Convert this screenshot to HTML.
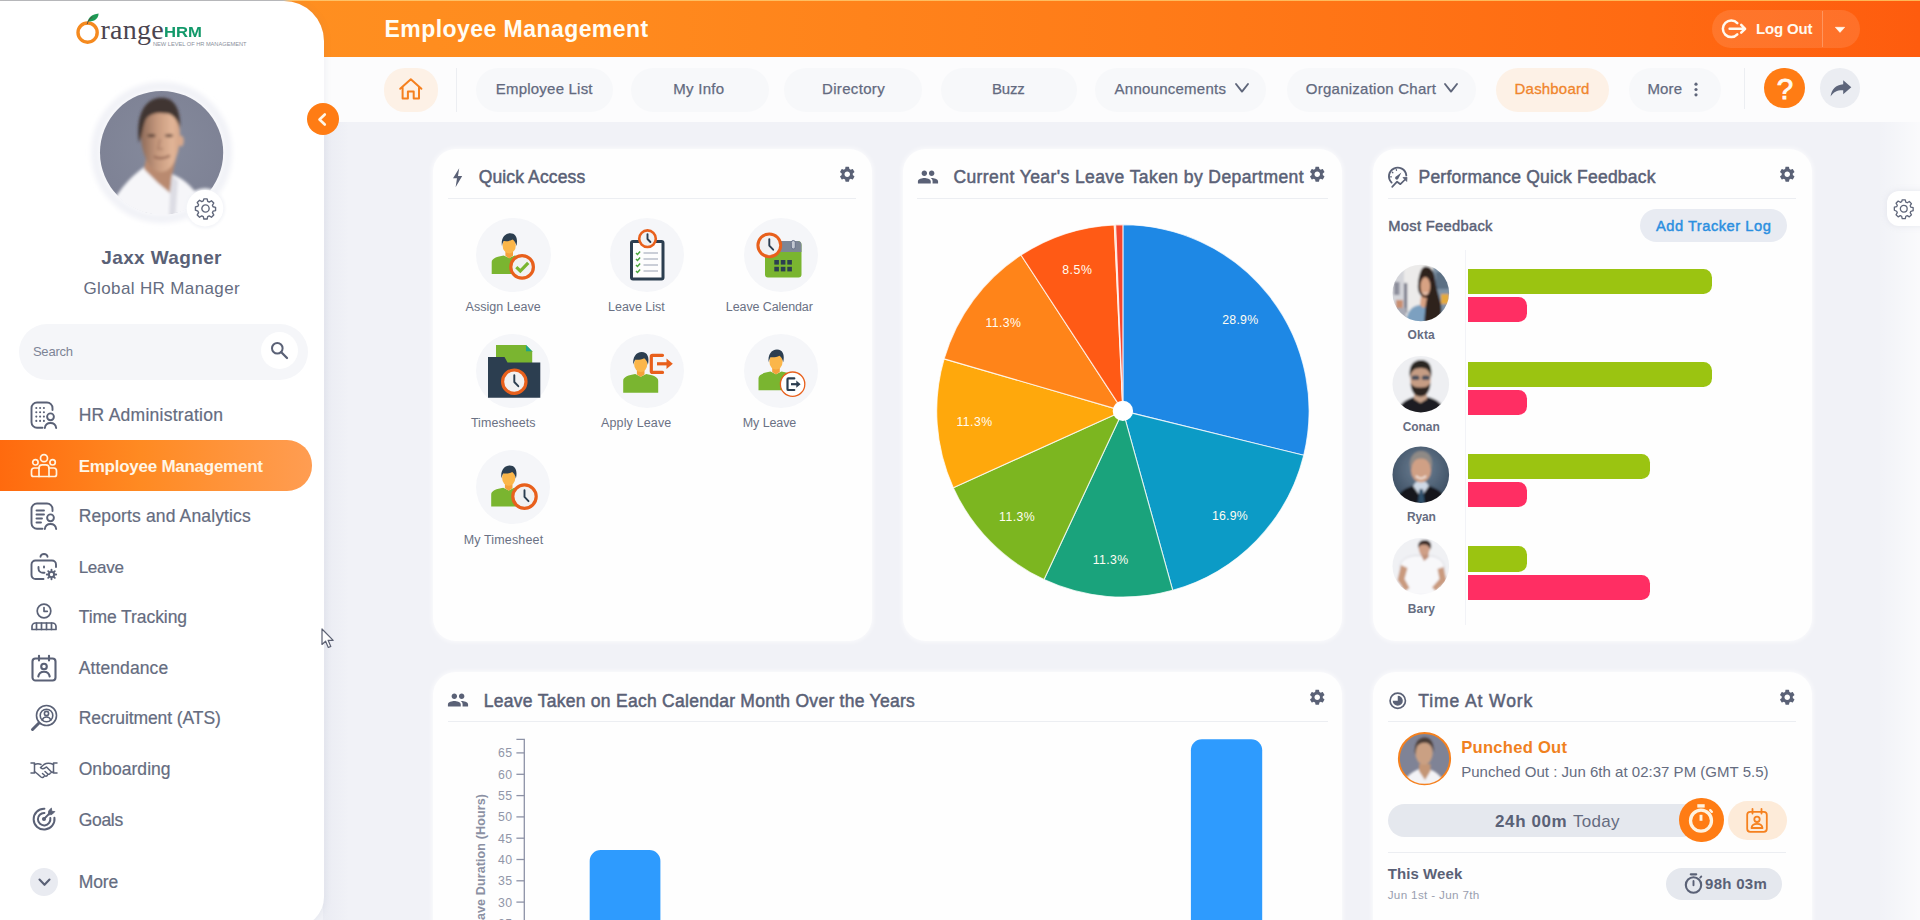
<!DOCTYPE html>
<html lang="en">
<head>
<meta charset="utf-8">
<title>OrangeHRM - Employee Management Dashboard</title>
<style>
*{box-sizing:border-box;margin:0;padding:0}
html,body{width:1920px;height:920px;overflow:hidden}
body{font-family:"Liberation Sans",sans-serif;background:#f1f2f7;color:#5f667a;position:relative}
.abs{position:absolute}
.t{position:absolute;white-space:nowrap;line-height:1}
svg{position:absolute;overflow:visible}
#header{position:absolute;left:0;top:0;width:1920px;height:57px;background:linear-gradient(90deg,#ff9322 0%,#ff8b1e 30%,#ff7b18 60%,#ff6a12 86%,#fe5c0e 100%)}
#topline{position:absolute;left:0;top:0;width:1920px;height:1.300px;background:linear-gradient(90deg,#b9b9bb 0,#b9b9bb 283px,#ffc266 290px,#ffb655 100%)}
#navbar{position:absolute;left:323px;top:57px;width:1597px;height:65px;background:#fcfcfd}
.pill{position:absolute;top:68px;height:44px;border-radius:22px;background:#f7f8fa}
#sidebar{position:absolute;left:0;top:1px;width:323.500px;height:925.500px;background:#fff;border-radius:0 40px 30px 0;box-shadow:2px 0 6px rgba(120,125,150,.08)}
.card{position:absolute;background:#fefefe;border-radius:23px;box-shadow:0 0 5px 1px rgba(255,255,255,.75)}
.hr{position:absolute;height:1px;background:#eceef2}
</style>
</head>
<body>
<div id="header"></div><div id="topline"></div><div id="navbar"></div>
<div class="abs" style="left:1878px;top:122px;width:42px;height:798px;background:linear-gradient(90deg,rgba(255,255,255,0),rgba(255,255,255,.65))"></div>
<div class="abs" style="left:323px;top:122px;width:26px;height:798px;background:linear-gradient(90deg,rgba(150,155,190,.075),rgba(150,155,190,0))"></div>
<div class="t" style="left:384.6px;top:18.0px;font-size:23px;color:#fffdf5;font-weight:bold;letter-spacing:0.44px;">Employee Management</div>
<div class="abs" style="left:1712px;top:10px;width:148px;height:38px;border-radius:19px;background:rgba(255,255,255,.11)"></div>
<div class="abs" style="left:1822px;top:11px;width:1px;height:36px;background:rgba(255,255,255,.25)"></div>
<div class="t" style="left:1756.1px;top:21.0px;font-size:15px;color:#fffaf0;font-weight:bold;letter-spacing:-0.18px;">Log Out</div>
<svg style="left:1720px;top:18px" width="28" height="22" viewBox="0 0 28 22"><g fill="none" stroke="#fffaf0" stroke-width="2.500" stroke-linecap="round" stroke-linejoin="round"><path d="M17.3 5.2A8.3 8.3 0 1 0 17.3 16.4"/><path d="M9.6 10.8H25M21.2 6.9l3.9 3.9-3.9 3.9"/></g></svg>
<svg style="left:1835px;top:26.5px" width="10" height="6" viewBox="0 0 10 6"><path d="M0.3 0.3h9.4L5 5.4z" fill="#fffaf0" stroke="#fffaf0" stroke-width=".6" stroke-linejoin="round"/></svg>
<div class="abs" style="left:384px;top:68px;width:54px;height:44px;border-radius:21px;background:#fdf1e6"></div>
<svg style="left:398px;top:77px" width="26" height="24" viewBox="0 0 26 24"><path d="M2.2 11.8L12.8 2.2 23.4 11.8M4.6 10.2V21.6H9.9V14.6H15.7V21.6H21V10.2" fill="none" stroke="#f5801f" stroke-width="2" stroke-linecap="round" stroke-linejoin="round"/></svg>
<div class="abs" style="left:456px;top:68px;width:1px;height:44px;background:#eceef2"></div>
<div class="pill" style="left:476px;width:137px;"></div>
<div class="t" style="left:495.8px;top:81.0px;font-size:15px;color:#636a7f;letter-spacing:0.21px;-webkit-text-stroke:.25px #636a7f;">Employee List</div>
<div class="pill" style="left:631px;width:138px;"></div>
<div class="t" style="left:673.3px;top:81.0px;font-size:15px;color:#636a7f;letter-spacing:0.26px;-webkit-text-stroke:.25px #636a7f;">My Info</div>
<div class="pill" style="left:784px;width:138px;"></div>
<div class="t" style="left:822.0px;top:81.0px;font-size:15px;color:#636a7f;letter-spacing:0.33px;-webkit-text-stroke:.25px #636a7f;">Directory</div>
<div class="pill" style="left:941px;width:136px;"></div>
<div class="t" style="left:992.0px;top:81.0px;font-size:15px;color:#636a7f;letter-spacing:-0.21px;-webkit-text-stroke:.25px #636a7f;">Buzz</div>
<div class="pill" style="left:1095px;width:171px;"></div>
<div class="t" style="left:1114.6px;top:81.0px;font-size:15px;color:#636a7f;letter-spacing:0.24px;-webkit-text-stroke:.25px #636a7f;">Announcements</div>
<div class="pill" style="left:1287px;width:189px;"></div>
<div class="t" style="left:1305.8px;top:81.0px;font-size:15px;color:#636a7f;letter-spacing:0.25px;-webkit-text-stroke:.25px #636a7f;">Organization Chart</div>
<svg style="left:1234.7px;top:83.4px" width="14" height="10" viewBox="0 0 14 10"><path d="M1 1L7 8.6 13 1" fill="none" stroke="#5f667a" stroke-width="1.9" stroke-linecap="round" stroke-linejoin="round"/></svg>
<svg style="left:1444.2px;top:83.4px" width="14" height="10" viewBox="0 0 14 10"><path d="M1 1L7 8.6 13 1" fill="none" stroke="#5f667a" stroke-width="1.9" stroke-linecap="round" stroke-linejoin="round"/></svg>
<div class="pill" style="left:1496px;width:113px;background:#fdf1e6;"></div>
<div class="t" style="left:1514.6px;top:81.0px;font-size:15px;color:#f0852c;letter-spacing:0.18px;-webkit-text-stroke:.3px #f0852c;">Dashboard</div>
<div class="pill" style="left:1629px;width:92px;"></div>
<div class="t" style="left:1647.4px;top:81.0px;font-size:15px;color:#636a7f;letter-spacing:0.15px;-webkit-text-stroke:.25px #636a7f;">More</div>
<svg style="left:1694px;top:82px" width="4" height="15" viewBox="0 0 4 15"><g fill="#5f667a"><circle cx="2" cy="2.2" r="1.6"/><circle cx="2" cy="7.5" r="1.6"/><circle cx="2" cy="12.8" r="1.6"/></g></svg>
<div class="abs" style="left:1743.5px;top:68px;width:1px;height:41px;background:#eceef2"></div>
<div class="abs" style="left:1764px;top:67.7px;width:40.8px;height:40.8px;border-radius:50%;background:#ff7c14"></div>
<div class="t" style="left:1776.7px;top:74.0px;font-size:29.5px;color:#fffaf0;-webkit-text-stroke:.9px #fffaf0;">?</div>
<div class="abs" style="left:1820.2px;top:68.2px;width:39.6px;height:39.6px;border-radius:50%;background:#ebedf2"></div>
<svg style="left:1829.5px;top:80px" width="22" height="17" viewBox="0 0 22 17"><path d="M13.2 0.3L21.3 7.2 13.2 14.2V10.3C7.6 10 3.6 11.9 0.6 16.4 1.5 9.8 5.6 4.9 13.2 4.3z" fill="#5d657a"/></svg>
<div id="sidebar"></div>
<svg style="left:72px;top:10px" width="180" height="40" viewBox="0 0 180 40"><circle cx="15.6" cy="22.6" r="9.6" fill="none" stroke="#f58a1f" stroke-width="3.4"/><path d="M15.5 11.5C16.5 7.5 20 4.2 26.6 3.4 26.4 8.6 22.5 11.6 15.5 11.5z" fill="#1e9a55"/><path d="M15.2 14.2C15.6 11.6 17.2 9 20.5 7" fill="none" stroke="#5a4a3a" stroke-width="1"/></svg>
<div class="t" style="left:100.4px;top:16.0px;font-size:28px;color:#4b4550;letter-spacing:0.26px;font-family:'Liberation Serif',serif;">range</div>
<div class="t" style="left:163.5px;top:24.0px;font-size:15.3px;color:#12996a;font-weight:bold;transform:scaleX(1.09);transform-origin:0 0;">HRM</div>
<div class="t" style="left:153.0px;top:42.0px;font-size:5.7px;color:#8a8f9c;letter-spacing:-0.02px;">NEW LEVEL OF HR MANAGEMENT</div>
<svg style="left:88px;top:79px" width="148" height="148" viewBox="0 0 148 148">
<defs><clipPath id="avc"><circle cx="73.600" cy="73.500" r="62.200"/></clipPath><filter id="bl1" x="-20%" y="-20%" width="140%" height="140%"><feGaussianBlur stdDeviation="1.500"/></filter><filter id="bl0" x="-20%" y="-20%" width="140%" height="140%"><feGaussianBlur stdDeviation="2.500"/></filter>
<linearGradient id="skin" x1="0" y1="0" x2="1" y2="0"><stop offset="0" stop-color="#8d6a58"/><stop offset=".4" stop-color="#c4977c"/><stop offset=".8" stop-color="#e2b597"/><stop offset="1" stop-color="#d4a588"/></linearGradient>
<radialGradient id="avbg" cx="50%" cy="45%" r="60%"><stop offset="0" stop-color="#858a9c"/><stop offset="1" stop-color="#7d8194"/></radialGradient></defs>
<circle cx="73.600" cy="73.500" r="66" fill="none" stroke="#f1f2f7" stroke-width="9" filter="url(#bl0)"/>
<circle cx="73.600" cy="73.500" r="61.600" fill="url(#avbg)"/>
<g clip-path="url(#avc)"><g filter="url(#bl1)">
<path d="M10 160C20 120 40 100 56 88L86 96C100 102 116 116 130 160z" fill="#f6f6f9"/>
<path d="M58 80L56 90 70 104 82 114 84 96 88 80z" fill="#b98a70"/>
<path d="M82 114L84 96 90 102 86 160 80 160z" fill="#dddde4"/>
<path d="M53 58C52 40 58 28 72 27 86 26 92 38 92 56 92 72 86 92 74 93 62 94 54 76 53 58z" fill="url(#skin)"/>
<ellipse cx="93" cy="62" rx="2.800" ry="5.500" fill="#d9a98c"/>
<path d="M51 64C48 40 54 22 70 19 84 17 93 26 92 50 90 42 86 36 80 34.500 70 33 62 34 58 40 55 46 54 56 51 64z" fill="#3f3431"/>
<ellipse cx="63.500" cy="56.600" rx="4.200" ry="1.700" fill="#5c4338"/><ellipse cx="81" cy="56.600" rx="4.200" ry="1.700" fill="#6e5144"/>
<path d="M66 77.500C70 80 77 80 82 76.500" stroke="#8d5f4e" stroke-width="2" fill="none"/>
<path d="M72 60L70 70H75" stroke="#a87c66" stroke-width="1.500" fill="none"/>
</g></g>
<circle cx="117" cy="129.200" r="20" fill="#f3f4f8" filter="url(#bl1)"/><circle cx="117" cy="129.200" r="18.300" fill="#fff"/>
</svg>
<svg style="left:193.5px;top:196.700px" width="23" height="23" viewBox="0 0 24 24"><path d="M12 8.2a3.8 3.8 0 1 0 0 7.6 3.8 3.8 0 0 0 0-7.6zM10.3 2h3.4l.6 2.6 1.6.7 2.3-1.4 2.4 2.4-1.4 2.3.7 1.6 2.6.6v3.4l-2.6.6-.7 1.6 1.4 2.3-2.4 2.4-2.3-1.4-1.6.7-.6 2.6h-3.4l-.6-2.6-1.6-.7-2.3 1.4-2.4-2.4 1.4-2.3-.7-1.6L1.500 13.700v-3.400l2.600-.6.700-1.600L3.400 5.800 5.800 3.400l2.300 1.400 1.600-.7z" fill="none" stroke="#5f667a" stroke-width="1.45" stroke-linejoin="round"/></svg>
<div class="t" style="left:101.3px;top:248.0px;font-size:19px;color:#5a6176;font-weight:bold;letter-spacing:0.37px;">Jaxx Wagner</div>
<div class="t" style="left:83.5px;top:280.0px;font-size:17px;color:#656c80;letter-spacing:0.37px;">Global HR Manager</div>
<div class="abs" style="left:18.500px;top:323.500px;width:289px;height:56.500px;border-radius:28px;background:#f5f6f9"></div>
<div class="abs" style="left:260.500px;top:332px;width:37px;height:37px;border-radius:50%;background:#fff"></div>
<div class="t" style="left:32.9px;top:345.0px;font-size:13px;color:#7d8496;letter-spacing:-0.20px;">Search</div>
<svg style="left:270px;top:340.500px" width="19" height="19" viewBox="0 0 19 19"><circle cx="7.300" cy="7.300" r="5.300" fill="none" stroke="#5a6176" stroke-width="2"/><path d="M11.300 11.300L17 17" stroke="#5a6176" stroke-width="2.300" stroke-linecap="round"/></svg>
<div class="abs" style="left:0;top:440px;width:311.500px;height:50.500px;border-radius:0 25px 25px 0;background:linear-gradient(90deg,#ff6a0e 0%,#ff8a22 45%,#ff9d52 100%)"></div>
<div class="t" style="left:78.7px;top:407.0px;font-size:17.5px;color:#656c80;letter-spacing:0.26px;-webkit-text-stroke:.2px #656c80;">HR Administration</div>
<div class="t" style="left:78.7px;top:458.0px;font-size:17px;color:#fff6e6;font-weight:bold;letter-spacing:-0.26px;">Employee Management</div>
<div class="t" style="left:78.7px;top:508.0px;font-size:17.5px;color:#656c80;letter-spacing:0.14px;-webkit-text-stroke:.2px #656c80;">Reports and Analytics</div>
<div class="t" style="left:78.7px;top:559.0px;font-size:17px;color:#656c80;letter-spacing:-0.27px;-webkit-text-stroke:.2px #656c80;">Leave</div>
<div class="t" style="left:78.7px;top:609.0px;font-size:17.5px;color:#656c80;letter-spacing:-0.07px;-webkit-text-stroke:.2px #656c80;">Time Tracking</div>
<div class="t" style="left:78.7px;top:660.0px;font-size:17.5px;color:#656c80;letter-spacing:0.10px;-webkit-text-stroke:.2px #656c80;">Attendance</div>
<div class="t" style="left:78.7px;top:710.0px;font-size:17.5px;color:#656c80;letter-spacing:-0.09px;-webkit-text-stroke:.2px #656c80;">Recruitment (ATS)</div>
<div class="t" style="left:78.7px;top:761.0px;font-size:17.5px;color:#656c80;letter-spacing:0.05px;-webkit-text-stroke:.2px #656c80;">Onboarding</div>
<div class="t" style="left:78.7px;top:812.0px;font-size:17.5px;color:#656c80;letter-spacing:-0.30px;-webkit-text-stroke:.2px #656c80;">Goals</div>
<div class="t" style="left:78.7px;top:874.0px;font-size:17.5px;color:#656c80;letter-spacing:-0.07px;-webkit-text-stroke:.2px #656c80;">More</div>
<svg style="left:30px;top:401px" width="28" height="28" viewBox="0 0 28 28"><g fill="none" stroke="#5a6176" stroke-width="1.9" stroke-linecap="round" stroke-linejoin="round"><path d="M12.500 26.800H7A5.500 5.500 0 0 1 1.500 21.300V7A5.500 5.500 0 0 1 7 1.500H17A5.500 5.500 0 0 1 22.500 7V9"/><circle cx="6.3" cy="7" r="1.050" fill="#5a6176" stroke="none"/><circle cx="6.3" cy="11.3" r="1.050" fill="#5a6176" stroke="none"/><circle cx="6.3" cy="15.6" r="1.050" fill="#5a6176" stroke="none"/><circle cx="6.3" cy="19.9" r="1.050" fill="#5a6176" stroke="none"/><circle cx="10.1" cy="7" r="1.050" fill="#5a6176" stroke="none"/><circle cx="10.1" cy="11.3" r="1.050" fill="#5a6176" stroke="none"/><circle cx="10.1" cy="15.6" r="1.050" fill="#5a6176" stroke="none"/><circle cx="10.1" cy="19.9" r="1.050" fill="#5a6176" stroke="none"/><circle cx="13.9" cy="7" r="1.050" fill="#5a6176" stroke="none"/><circle cx="13.9" cy="11.3" r="1.050" fill="#5a6176" stroke="none"/><circle cx="13.9" cy="15.6" r="1.050" fill="#5a6176" stroke="none"/><circle cx="13.9" cy="19.9" r="1.050" fill="#5a6176" stroke="none"/><circle cx="20.500" cy="15.800" r="3.400"/><path d="M14.800 27C15.300 23.800 17.600 22 20.500 22S25.700 23.800 26.200 27"/></g></svg>
<svg style="left:30px;top:451.5px" width="28" height="28" viewBox="0 0 28 28"><g fill="none" stroke="#fff3e0" stroke-width="1.7" stroke-linecap="round" stroke-linejoin="round"><circle cx="14" cy="6.200" r="3.500"/><circle cx="5.400" cy="10.300" r="2.700"/><circle cx="22.600" cy="10.300" r="2.700"/><path d="M9 24.500V16A3.200 3.200 0 0 1 12.200 12.800H15.800A3.200 3.200 0 0 1 19 16V24.500"/><path d="M9 16H4.300A2.800 2.800 0 0 0 1.500 18.800V22.500A2 2 0 0 0 3.500 24.500H24.500A2 2 0 0 0 26.500 22.500V18.800A2.800 2.800 0 0 0 23.700 16H19"/></g></svg>
<svg style="left:30px;top:502px" width="28" height="28" viewBox="0 0 28 28"><g fill="none" stroke="#5a6176" stroke-width="1.9" stroke-linecap="round" stroke-linejoin="round"><path d="M12.500 26.800H7A5.500 5.500 0 0 1 1.500 21.300V7A5.500 5.500 0 0 1 7 1.500H17A5.500 5.500 0 0 1 22.500 7V9"/><path d="M6.500 8.500H14M6.500 12.500H14M6.500 16.500H12M6.500 20.500H11"/><circle cx="20.500" cy="15.800" r="3.400"/><path d="M14.800 27C15.300 23.800 17.600 22 20.500 22S25.700 23.800 26.200 27"/></g></svg>
<svg style="left:30px;top:552.5px" width="28" height="28" viewBox="0 0 28 28"><g fill="none" stroke="#5a6176" stroke-width="1.9" stroke-linecap="round" stroke-linejoin="round"><path d="M10.500 3.800A3.500 2.800 0 0 1 17.500 3.800"/><path d="M13.500 26H5.500A4 4 0 0 1 1.500 22V11.500A4 4 0 0 1 5.500 7.500H22A4 4 0 0 1 26 11.500V14"/><path d="M8.500 14V15.500C8.500 18 10.500 19.800 13 19.800H14.500"/><path d="M14 13.500V14.500"/><circle cx="21.500" cy="21.500" r="2.600"/><path d="M21.500 16.800V18.500M21.500 24.500V26.200M16.800 21.500H18.500M24.500 21.500H26.200M18.200 18.200L19.400 19.400M23.600 23.600L24.800 24.800M24.800 18.200L23.600 19.400M19.400 23.600L18.200 24.800"/></g></svg>
<svg style="left:30px;top:603px" width="28" height="28" viewBox="0 0 28 28"><g fill="none" stroke="#5a6176" stroke-width="1.7" stroke-linecap="round" stroke-linejoin="round"><circle cx="14" cy="8" r="6.800"/><path d="M14 4.500V8.300H17.300"/><path d="M2 26.500V23.500A3.500 3.500 0 0 1 5.500 20H22.500A3.500 3.500 0 0 1 26 23.500V26.500z"/><path d="M6.500 20V26.500M11.500 20V26.500M16.500 20V26.500M21.500 20V26.500"/></g></svg>
<svg style="left:30px;top:653.5px" width="28" height="28" viewBox="0 0 28 28"><g fill="none" stroke="#5a6176" stroke-width="2.1" stroke-linecap="round" stroke-linejoin="round"><rect x="2.500" y="4.500" width="23" height="22" rx="3"/><path d="M9 1.800V6.500M19 1.800V6.500"/><circle cx="14" cy="12.500" r="2.800"/><path d="M8.300 22.500C8.800 19.500 11 17.800 14 17.800S19.200 19.500 19.700 22.500"/></g></svg>
<svg style="left:30px;top:704px" width="28" height="28" viewBox="0 0 28 28"><g fill="none" stroke="#5a6176" stroke-width="1.6" stroke-linecap="round" stroke-linejoin="round"><circle cx="16.500" cy="11.500" r="10"/><circle cx="16.500" cy="11.500" r="6.300"/><circle cx="16.500" cy="9.500" r="2.100"/><path d="M12.300 16C13 13.800 14.500 13 16.500 13S20 13.800 20.700 16"/><path d="M9 19L2.500 25.500" stroke-width="3"/></g></svg>
<svg style="left:30px;top:754.5px" width="28" height="28" viewBox="0 0 28 28"><g fill="none" stroke="#5a6176" stroke-width="1.5" stroke-linecap="round" stroke-linejoin="round"><path d="M1 8H4.500V18H1M27 8H23.500V18H27"/><path d="M4.500 9.500C7 8.500 9 8.500 11 9.500M23.500 9.500C20 8 16.500 8 14 9.500L10.500 12.500C11.500 14 13.500 14 15 12.800L16.500 12 22 17.500"/><path d="M4.500 16.500L7 18.500 11 22C12 22.800 13.200 22.500 13.800 21.700M9.500 20.700L8 19.300M12.500 18.500L15 20.800C16 21.500 17.200 21 17.500 20M15 16.500L17.800 19C19 19.800 20.200 19 20.300 18M23.500 16.500L22 17.500"/></g></svg>
<svg style="left:30px;top:805.3px" width="28" height="28" viewBox="0 0 28 28"><g fill="none" stroke="#5a6176" stroke-width="2.3" stroke-linecap="round" stroke-linejoin="round"><g transform="translate(1.800,1.800) scale(.87)"><path d="M14.500 2.200A12 12 0 1 0 26 12.500"/><path d="M14.500 7A7.200 7.200 0 1 0 21.300 13"/><path d="M14 14L19.500 8.500" stroke-width="2.200"/><path d="M19 9L19.500 4.500 22.500 1.500 23 5.200 26.500 5.500 23.500 8.500z" fill="#5a6176" stroke-width="1"/><circle cx="14" cy="14" r="1.200" fill="#5a6176"/></g></g></svg>
<div class="abs" style="left:30.200px;top:867.500px;width:28px;height:28px;border-radius:50%;background:#e9ebf1"></div>
<svg style="left:38px;top:877.500px" width="13" height="9" viewBox="0 0 13 9"><path d="M1.500 1.500L6.500 6.800 11.500 1.500" fill="none" stroke="#5a6176" stroke-width="2.100" stroke-linecap="round" stroke-linejoin="round"/></svg>
<div class="abs" style="left:307px;top:103px;width:32px;height:32px;border-radius:50%;background:#ff7c14"></div>
<svg style="left:317px;top:112.500px" width="10" height="13" viewBox="0 0 10 13"><path d="M7.800 1.500L2.500 6.500 7.800 11.500" fill="none" stroke="#fff6e8" stroke-width="2.600" stroke-linecap="round" stroke-linejoin="round"/></svg>
<div class="card" style="left:432.500px;top:148.800px;width:439.500px;height:492px"></div>
<svg style="left:452px;top:167.500px" width="11" height="19.500" viewBox="0 0 11 19.500"><path d="M7.200 0.300L1 10.300H5L3.600 19.200 10.200 8H6z" fill="#5a6176"/></svg>
<div class="t" style="left:478.7px;top:169.0px;font-size:17.5px;color:#5a6176;letter-spacing:0.13px;-webkit-text-stroke:.5px #5a6176;">Quick Access</div>
<svg style="left:837.5px;top:165.1px" width="18.5" height="18.5" viewBox="0 0 24 24"><path d="M19.14 12.94c.04-.3.06-.61.06-.94 0-.32-.02-.64-.07-.94l2.030-1.580a.49.49 0 0 0 .12-.61l-1.920-3.320a.488.488 0 0 0-.59-.22l-2.390.96c-.5-.38-1.030-.7-1.620-.94l-.36-2.540a.484.484 0 0 0-.48-.41h-3.840c-.24 0-.43.17-.47.41l-.36 2.540c-.59.24-1.130.57-1.620.94l-2.390-.96c-.22-.08-.47 0-.59.22L2.740 8.870c-.12.21-.08.47.12.61l2.030 1.580c-.05.3-.09.63-.09.94s.02.64.07.94l-2.030 1.580a.49.49 0 0 0-.12.61l1.920 3.320c.12.22.37.29.59.22l2.390-.96c.5.38 1.030.7 1.620.94l.36 2.540c.05.24.24.41.48.41h3.840c.24 0 .44-.17.47-.41l.36-2.540c.59-.24 1.130-.56 1.620-.94l2.390.96c.22.08.47 0 .59-.22l1.920-3.320c.12-.22.07-.47-.12-.61l-2.010-1.580zM12 15.600c-1.980 0-3.600-1.620-3.600-3.600s1.620-3.600 3.600-3.600 3.600 1.620 3.600 3.600-1.620 3.600-3.600 3.600z" fill="#5a6176"/></svg>
<div class="hr" style="left:448px;top:198px;width:408px"></div>
<div class="abs" style="left:476.4px;top:217.7px;width:74.600px;height:74.600px;border-radius:50%;background:#f5f6f9"></div>
<div class="abs" style="left:609.7px;top:217.7px;width:74.600px;height:74.600px;border-radius:50%;background:#f5f6f9"></div>
<div class="abs" style="left:743.7px;top:217.7px;width:74.600px;height:74.600px;border-radius:50%;background:#f5f6f9"></div>
<svg style="left:0;top:0" width="1920" height="920" viewBox="0 0 1920 920"><path d="M491.7 274.1V262.1C491.7 258.1 497.2 256.6 503.7 255.4L509.2 258.1L514.7 255.4C521.2 256.6 526.7 258.1 526.7 262.1V274.1z" fill="#7ab530"/><path d="M505.4 249.6H513.0V255.79999999999998L509.2 258.4L505.4 255.79999999999998z" fill="#f5a13a"/><ellipse cx="509.2" cy="245.4" rx="6.600" ry="8" fill="#fbb64a"/><path d="M502.0 246.1C500.59999999999997 238.6 504.7 233.2 510.2 233.2C516.0 233.2 518.2 238.6 516.4 246.1C515.8 243.1 514.7 241.0 512.7 239.6C509.7 241.29999999999998 505.7 241.29999999999998 503.7 241.0C502.7 242.6 502.2 244.1 502.0 246.1z" fill="#2c3e50"/><circle cx="522.100" cy="266.900" r="11.300" fill="#f1f1f2" stroke="#e8601c" stroke-width="3.200"/><path d="M516.300 267.200L520.300 271 528.200 262.800" fill="none" stroke="#7ab530" stroke-width="3.200"/></svg>
<svg style="left:0;top:0" width="1920" height="920" viewBox="0 0 1920 920"><rect x="631.500" y="241.500" width="31.500" height="37.500" rx="1.500" fill="#fdfdfd" stroke="#2c3e50" stroke-width="3"/><path d="M636 253l1.500 1.500 2.600-3" fill="none" stroke="#4aa63c" stroke-width="1.500"/><path d="M643.500 253H658" stroke="#c5c9d3" stroke-width="1.800"/><path d="M636 259l1.500 1.500 2.600-3" fill="none" stroke="#4aa63c" stroke-width="1.500"/><path d="M643.500 259H658" stroke="#c5c9d3" stroke-width="1.800"/><path d="M636 265l1.500 1.500 2.600-3" fill="none" stroke="#4aa63c" stroke-width="1.500"/><path d="M643.500 265H658" stroke="#c5c9d3" stroke-width="1.800"/><path d="M636 271l1.500 1.500 2.600-3" fill="none" stroke="#4aa63c" stroke-width="1.500"/><path d="M643.500 271H658" stroke="#c5c9d3" stroke-width="1.800"/><circle cx="647.5" cy="238.7" r="8.299999999999999" fill="#f1f1f2" stroke="#e8601c" stroke-width="2.6"/><path d="M647.5 234.09199999999998V239.0L650.38 241.964" fill="none" stroke="#2c3e50" stroke-width="1.900" stroke-linecap="round" stroke-linejoin="round"/></svg>
<svg style="left:0;top:0" width="1920" height="920" viewBox="0 0 1920 920"><path d="M765 274.500V245A4 4 0 0 1 769 241H797.500A4 4 0 0 1 801.500 245V274.500A3 3 0 0 1 798.500 277.500H768A3 3 0 0 1 765 274.500z" fill="#7ab530"/><path d="M765 252V245A4 4 0 0 1 769 241H797.500A4 4 0 0 1 801.500 245V252z" fill="#7d8696"/><rect x="791.300" y="240.500" width="4" height="8.500" rx="2" fill="#c3c8d2" stroke="#69728a" stroke-width="1"/><rect x="774.3" y="260" width="4.600" height="4.600" fill="#2c3e50"/><rect x="774.3" y="266.8" width="4.600" height="4.600" fill="#2c3e50"/><rect x="780.8" y="260" width="4.600" height="4.600" fill="#2c3e50"/><rect x="780.8" y="266.8" width="4.600" height="4.600" fill="#2c3e50"/><rect x="787.3" y="260" width="4.600" height="4.600" fill="#2c3e50"/><rect x="787.3" y="266.8" width="4.600" height="4.600" fill="#2c3e50"/><circle cx="769.3" cy="245.3" r="11.4" fill="#f1f1f2" stroke="#e8601c" stroke-width="3"/><path d="M769.3 239.108V245.60000000000002L773.17 249.686" fill="none" stroke="#2c3e50" stroke-width="1.900" stroke-linecap="round" stroke-linejoin="round"/></svg>
<div class="t" style="left:465.6px;top:301.0px;font-size:12.5px;color:#6a7184;letter-spacing:0.01px;">Assign Leave</div>
<div class="t" style="left:608.1px;top:301.0px;font-size:12.5px;color:#6a7184;letter-spacing:-0.05px;">Leave List</div>
<div class="t" style="left:725.8px;top:301.0px;font-size:12.5px;color:#6a7184;letter-spacing:-0.09px;">Leave Calendar</div>
<div class="abs" style="left:475.9px;top:333.7px;width:74.600px;height:74.600px;border-radius:50%;background:#f5f6f9"></div>
<div class="abs" style="left:609.5px;top:333.7px;width:74.600px;height:74.600px;border-radius:50%;background:#f5f6f9"></div>
<div class="abs" style="left:743.5px;top:333.7px;width:74.600px;height:74.600px;border-radius:50%;background:#f5f6f9"></div>
<svg style="left:0;top:0" width="1920" height="920" viewBox="0 0 1920 920"><path d="M496 345H526L532.200 351.200V368H496z" fill="#7ab530"/><path d="M526 345L532.200 351.200H526z" fill="#1fa58a"/><path d="M488 397.800V357H504.500L507.500 362.500H540.300V397.800z" fill="#2c3e50"/><circle cx="514.3" cy="381.7" r="11.700000000000001" fill="#f1f1f2" stroke="#e8601c" stroke-width="3.2"/><path d="M514.3 375.316V382.0L518.29 386.222" fill="none" stroke="#2c3e50" stroke-width="1.900" stroke-linecap="round" stroke-linejoin="round"/></svg>
<svg style="left:0;top:0" width="1920" height="920" viewBox="0 0 1920 920"><path d="M623.2 392.8V380.8C623.2 376.8 628.7 375.3 635.2 374.1L640.7 376.8L646.2 374.1C652.7 375.3 658.2 376.8 658.2 380.8V392.8z" fill="#7ab530"/><path d="M636.9000000000001 368.3H644.5V374.5L640.7 377.1L636.9000000000001 374.5z" fill="#f5a13a"/><ellipse cx="640.7" cy="364.1" rx="6.600" ry="8" fill="#fbb64a"/><path d="M633.5 364.8C632.1 357.3 636.2 351.90000000000003 641.7 351.90000000000003C647.5 351.90000000000003 649.7 357.3 647.9000000000001 364.8C647.3000000000001 361.8 646.2 359.7 644.2 358.3C641.2 360.0 637.2 360.0 635.2 359.7C634.2 361.3 633.7 362.8 633.5 364.8z" fill="#2c3e50"/><path d="M662.500 355.300H652.500A1.200 1.200 0 0 0 651.300 356.500V371.200A1.200 1.200 0 0 0 652.500 372.400H662.500" fill="none" stroke="#e8601c" stroke-width="3.200" stroke-linecap="round"/><path d="M657 363.800H668" stroke="#e8601c" stroke-width="3.200"/><path d="M666.500 358.600L672.800 363.800 666.500 369z" fill="#e8601c"/></svg>
<svg style="left:0;top:0" width="1920" height="920" viewBox="0 0 1920 920"><path d="M758.5 390.3V378.3C758.5 374.3 764 372.8 770.5 371.6L776 374.3L781.5 371.6C788 372.8 793.5 374.3 793.5 378.3V390.3z" fill="#7ab530"/><path d="M772.2 365.8H779.8V372.0L776 374.6L772.2 372.0z" fill="#f5a13a"/><ellipse cx="776" cy="361.6" rx="6.600" ry="8" fill="#fbb64a"/><path d="M768.8 362.3C767.4 354.8 771.5 349.40000000000003 777 349.40000000000003C782.8 349.40000000000003 785 354.8 783.2 362.3C782.6 359.3 781.5 357.2 779.5 355.8C776.5 357.5 772.5 357.5 770.5 357.2C769.5 358.8 769 360.3 768.8 362.3z" fill="#2c3e50"/><circle cx="792.600" cy="384.200" r="12.200" fill="#fff" stroke="#e8601c" stroke-width="1.300"/><path d="M794.300 378.400H788.300A0.800 0.800 0 0 0 787.500 379.200V389.200A0.800 0.800 0 0 0 788.300 390H794.300" fill="none" stroke="#2c3e50" stroke-width="2.200" stroke-linecap="round"/><path d="M791 384.200H797.500" stroke="#2c3e50" stroke-width="2.200"/><path d="M796.300 380.600L800.600 384.200 796.300 387.800z" fill="#2c3e50"/></svg>
<div class="t" style="left:470.9px;top:417.0px;font-size:12.5px;color:#6a7184;letter-spacing:0.06px;">Timesheets</div>
<div class="t" style="left:601.0px;top:417.0px;font-size:12.5px;color:#6a7184;letter-spacing:0.15px;">Apply Leave</div>
<div class="t" style="left:742.8px;top:417.0px;font-size:12.5px;color:#6a7184;letter-spacing:-0.10px;">My Leave</div>
<div class="abs" style="left:475.9px;top:449.7px;width:74.600px;height:74.600px;border-radius:50%;background:#f5f6f9"></div>
<svg style="left:0;top:0" width="1920" height="920" viewBox="0 0 1920 920"><path d="M491.2 506.5V494.5C491.2 490.5 496.7 489 503.2 487.8L508.7 490.5L514.2 487.8C520.7 489 526.2 490.5 526.2 494.5V506.5z" fill="#7ab530"/><path d="M504.9 482H512.5V488.2L508.7 490.8L504.9 488.2z" fill="#f5a13a"/><ellipse cx="508.7" cy="477.8" rx="6.600" ry="8" fill="#fbb64a"/><path d="M501.5 478.5C500.09999999999997 471 504.2 465.6 509.7 465.6C515.5 465.6 517.7 471 515.9 478.5C515.3 475.5 514.2 473.4 512.2 472C509.2 473.7 505.2 473.7 503.2 473.4C502.2 475 501.7 476.5 501.5 478.5z" fill="#2c3e50"/><circle cx="524.5" cy="496.6" r="11.700000000000001" fill="#f1f1f2" stroke="#e8601c" stroke-width="3.2"/><path d="M524.5 490.216V496.90000000000003L528.49 501.122" fill="none" stroke="#2c3e50" stroke-width="1.900" stroke-linecap="round" stroke-linejoin="round"/></svg>
<div class="t" style="left:463.7px;top:534.0px;font-size:12.5px;color:#6a7184;letter-spacing:0.15px;">My Timesheet</div>
<div class="card" style="left:902.500px;top:148.800px;width:439px;height:492px"></div>
<svg style="left:916.6px;top:166.3px" width="22" height="22" viewBox="0 0 24 24"><path d="M16 11c1.660 0 2.990-1.340 2.990-3S17.660 5 16 5c-1.660 0-3 1.340-3 3s1.340 3 3 3zm-8 0c1.660 0 2.990-1.340 2.990-3S9.660 5 8 5C6.340 5 5 6.340 5 8s1.340 3 3 3zm0 2c-2.330 0-7 1.170-7 3.500V19h14v-2.500c0-2.330-4.670-3.500-7-3.500zm8 0c-.29 0-.62.020-.97.050 1.160.84 1.970 1.970 1.970 3.450V19h6v-2.500c0-2.330-4.670-3.500-7-3.500z" fill="#5a6176"/></svg>
<div class="t" style="left:953.4px;top:169.0px;font-size:17.5px;color:#5a6176;letter-spacing:0.42px;-webkit-text-stroke:.5px #5a6176;">Current Year&#x27;s Leave Taken by Department</div>
<svg style="left:1307.5px;top:164.7px" width="18.5" height="18.5" viewBox="0 0 24 24"><path d="M19.14 12.94c.04-.3.06-.61.06-.94 0-.32-.02-.64-.07-.94l2.030-1.580a.49.49 0 0 0 .12-.61l-1.920-3.320a.488.488 0 0 0-.59-.22l-2.390.96c-.5-.38-1.030-.7-1.620-.94l-.36-2.540a.484.484 0 0 0-.48-.41h-3.840c-.24 0-.43.17-.47.41l-.36 2.540c-.59.24-1.130.57-1.620.94l-2.390-.96c-.22-.08-.47 0-.59.22L2.740 8.870c-.12.21-.08.47.12.61l2.030 1.580c-.05.3-.09.63-.09.94s.02.64.07.94l-2.030 1.580a.49.49 0 0 0-.12.61l1.920 3.320c.12.22.37.29.59.22l2.390-.96c.5.38 1.030.7 1.620.94l.36 2.540c.05.24.24.41.48.41h3.840c.24 0 .44-.17.47-.41l.36-2.540c.59-.24 1.130-.56 1.620-.94l2.390.96c.22.08.47 0 .59-.22l1.920-3.320c.12-.22.07-.47-.12-.61l-2.010-1.580zM12 15.600c-1.980 0-3.600-1.620-3.600-3.600s1.620-3.600 3.600-3.600 3.600 1.620 3.600 3.600-1.620 3.600-3.600 3.600z" fill="#5a6176"/></svg>
<div class="hr" style="left:916.500px;top:198px;width:411px"></div>
<svg style="left:0;top:0" width="1920" height="920" viewBox="0 0 1920 920"><path d="M1122.9 410.9L1122.90 224.70A186.2 186.2 0 0 1 1303.73 455.29z" fill="#1e88e5" stroke="#ffffff" stroke-opacity=".75" stroke-width="1.100" stroke-linejoin="round"/><path d="M1122.9 410.9L1303.73 455.29A186.2 186.2 0 0 1 1172.71 590.32z" fill="#0c9bc6" stroke="#ffffff" stroke-opacity=".75" stroke-width="1.100" stroke-linejoin="round"/><path d="M1122.9 410.9L1172.71 590.32A186.2 186.2 0 0 1 1044.01 579.56z" fill="#1aa37c" stroke="#ffffff" stroke-opacity=".75" stroke-width="1.100" stroke-linejoin="round"/><path d="M1122.9 410.9L1044.01 579.56A186.2 186.2 0 0 1 953.26 487.67z" fill="#7cb620" stroke="#ffffff" stroke-opacity=".75" stroke-width="1.100" stroke-linejoin="round"/><path d="M1122.9 410.9L953.26 487.67A186.2 186.2 0 0 1 944.12 358.85z" fill="#ffa80c" stroke="#ffffff" stroke-opacity=".75" stroke-width="1.100" stroke-linejoin="round"/><path d="M1122.9 410.9L944.12 358.85A186.2 186.2 0 0 1 1020.99 255.07z" fill="#ff8419" stroke="#ffffff" stroke-opacity=".75" stroke-width="1.100" stroke-linejoin="round"/><path d="M1122.9 410.9L1020.99 255.07A186.2 186.2 0 0 1 1114.27 224.90z" fill="#ff5a15" stroke="#ffffff" stroke-opacity=".75" stroke-width="1.100" stroke-linejoin="round"/><path d="M1122.9 410.9L1114.27 224.90A186.2 186.2 0 0 1 1115.67 224.84z" fill="#ffb27a" stroke="#ffffff" stroke-opacity=".75" stroke-width="1.100" stroke-linejoin="round"/><path d="M1122.9 410.9L1115.67 224.84A186.2 186.2 0 0 1 1122.90 224.70z" fill="#f4452f" stroke="#ffffff" stroke-opacity=".75" stroke-width="1.100" stroke-linejoin="round"/><circle cx="1122.9" cy="410.9" r="10.200" fill="#fff"/></svg>
<div class="t" style="left:1222.3px;top:314.0px;font-size:12.3px;color:#fffdf2;letter-spacing:0.23px;">28.9%</div>
<div class="t" style="left:1211.9px;top:510.0px;font-size:12.3px;color:#fffdf2;letter-spacing:0.23px;">16.9%</div>
<div class="t" style="left:1092.7px;top:554.0px;font-size:12.3px;color:#fffdf2;letter-spacing:0.41px;">11.3%</div>
<div class="t" style="left:999.1px;top:511.0px;font-size:12.3px;color:#fffdf2;letter-spacing:0.41px;">11.3%</div>
<div class="t" style="left:956.5px;top:416.0px;font-size:12.3px;color:#fffdf2;letter-spacing:0.41px;">11.3%</div>
<div class="t" style="left:985.4px;top:317.0px;font-size:12.3px;color:#fffdf2;letter-spacing:0.41px;">11.3%</div>
<div class="t" style="left:1062.2px;top:264.0px;font-size:12.3px;color:#fffdf2;letter-spacing:0.57px;">8.5%</div>
<div class="card" style="left:1372.500px;top:148.800px;width:439px;height:492px"></div>
<svg style="left:1388px;top:166.500px" width="20" height="21" viewBox="0 0 20 21"><g fill="none" stroke="#5a6176" stroke-width="1.900" stroke-linecap="round" stroke-linejoin="round"><path d="M3.600 15.600A8.700 8.700 0 1 1 18.300 8.300"/><path d="M4.200 19.900L9.100 14.700 12.400 17.200 16.600 13" stroke-width="1.700"/><path d="M2.600 9.800H3.400M4.300 5.200L4.900 5.700M8.300 2.600L8.500 3.300" stroke-width="1.300"/></g><path d="M13.400 5.500L10.500 11.300A1.700 1.700 0 1 1 8 9.500z" fill="#5a6176"/><path d="M15 10.500L19 10.300 18.700 14.400z" fill="#5a6176" stroke="#5a6176" stroke-width=".8" stroke-linejoin="round"/></svg>
<div class="t" style="left:1418.5px;top:169.0px;font-size:17.5px;color:#5a6176;letter-spacing:0.22px;-webkit-text-stroke:.5px #5a6176;">Performance Quick Feedback</div>
<svg style="left:1777.5px;top:164.8px" width="18.5" height="18.5" viewBox="0 0 24 24"><path d="M19.14 12.94c.04-.3.06-.61.06-.94 0-.32-.02-.64-.07-.94l2.030-1.580a.49.49 0 0 0 .12-.61l-1.920-3.320a.488.488 0 0 0-.59-.22l-2.390.96c-.5-.38-1.030-.7-1.620-.94l-.36-2.540a.484.484 0 0 0-.48-.41h-3.840c-.24 0-.43.17-.47.41l-.36 2.540c-.59.24-1.130.57-1.620.94l-2.390-.96c-.22-.08-.47 0-.59.22L2.740 8.870c-.12.21-.08.47.12.61l2.030 1.580c-.05.3-.09.63-.09.94s.02.64.07.94l-2.030 1.580a.49.49 0 0 0-.12.61l1.920 3.320c.12.22.37.29.59.22l2.390-.96c.5.38 1.030.7 1.620.94l.36 2.540c.05.24.24.41.48.41h3.840c.24 0 .44-.17.47-.41l.36-2.540c.59-.24 1.130-.56 1.620-.94l2.390.96c.22.08.47 0 .59-.22l1.920-3.320c.12-.22.07-.47-.12-.61l-2.010-1.580zM12 15.600c-1.980 0-3.600-1.620-3.600-3.600s1.620-3.600 3.600-3.600 3.600 1.620 3.600 3.600-1.620 3.600-3.600 3.600z" fill="#5a6176"/></svg>
<div class="hr" style="left:1388px;top:198px;width:408px"></div>
<div class="t" style="left:1388.3px;top:219.0px;font-size:14.7px;color:#5a6176;letter-spacing:0.31px;-webkit-text-stroke:.45px #5a6176;">Most Feedback</div>
<div class="abs" style="left:1640px;top:209.300px;width:146.700px;height:33px;border-radius:16.500px;background:#e8ebf2"></div>
<div class="t" style="left:1655.9px;top:219.0px;font-size:14.7px;color:#2b8fe0;letter-spacing:0.51px;-webkit-text-stroke:.45px #2b8fe0;">Add Tracker Log</div>
<div class="abs" style="left:1464.500px;top:250px;width:1px;height:375px;background:#f2f3f7"></div>
<div class="abs" style="left:1468.400px;top:268.6px;width:243.3px;height:25.2px;background:#9bc411;border-radius:0 8.500px 8.500px 0"></div>
<div class="abs" style="left:1468.400px;top:297.0px;width:58.9px;height:25px;background:#ff2e63;border-radius:0 8.500px 8.500px 0"></div>
<div class="abs" style="left:1468.400px;top:362px;width:243.3px;height:25.2px;background:#9bc411;border-radius:0 8.500px 8.500px 0"></div>
<div class="abs" style="left:1468.400px;top:390.4px;width:58.9px;height:25px;background:#ff2e63;border-radius:0 8.500px 8.500px 0"></div>
<div class="abs" style="left:1468.400px;top:454px;width:181.5px;height:25.2px;background:#9bc411;border-radius:0 8.500px 8.500px 0"></div>
<div class="abs" style="left:1468.400px;top:482.4px;width:58.9px;height:25px;background:#ff2e63;border-radius:0 8.500px 8.500px 0"></div>
<div class="abs" style="left:1468.400px;top:546.4px;width:58.9px;height:25.2px;background:#9bc411;border-radius:0 8.500px 8.500px 0"></div>
<div class="abs" style="left:1468.400px;top:574.8px;width:181.5px;height:25px;background:#ff2e63;border-radius:0 8.500px 8.500px 0"></div>
<div class="t" style="left:1407.5px;top:329.0px;font-size:12px;color:#666d81;font-weight:bold;letter-spacing:0.20px;">Okta</div>
<div class="t" style="left:1402.7px;top:421.0px;font-size:12px;color:#666d81;font-weight:bold;letter-spacing:-0.05px;">Conan</div>
<div class="t" style="left:1407.0px;top:511.0px;font-size:12px;color:#666d81;font-weight:bold;letter-spacing:-0.14px;">Ryan</div>
<div class="t" style="left:1407.8px;top:603.0px;font-size:12px;color:#666d81;font-weight:bold;letter-spacing:0.15px;">Bary</div>
<svg style="left:0;top:0" width="1920" height="920" viewBox="0 0 1920 920"><defs>
<filter id="bl2" x="-20%" y="-20%" width="140%" height="140%"><feGaussianBlur stdDeviation="0.9"/></filter>
<clipPath id="pa1"><circle cx="1420.800" cy="293" r="28.300"/></clipPath>
<clipPath id="pa2"><circle cx="1420.800" cy="384.200" r="28.300"/></clipPath>
<clipPath id="pa3"><circle cx="1420.800" cy="474.700" r="28.300"/></clipPath>
<clipPath id="pa4"><circle cx="1420.800" cy="566.200" r="28.300"/></clipPath>
<linearGradient id="okbg" x1="0" y1="0" x2="1" y2="0"><stop offset="0" stop-color="#d9dde2"/><stop offset=".3" stop-color="#f1f1ef"/><stop offset=".75" stop-color="#c8d4dc"/><stop offset="1" stop-color="#7d96ad"/></linearGradient>
<radialGradient id="rybg" cx="50%" cy="40%" r="65%"><stop offset="0" stop-color="#6f8296"/><stop offset="1" stop-color="#34465a"/></radialGradient>
</defs>
<g clip-path="url(#pa1)"><g filter="url(#bl2)">
<rect x="1390" y="262" width="62" height="62" fill="#ecebea"/>
<rect x="1390" y="262" width="14" height="62" fill="#d4d5da"/>
<rect x="1394" y="282" width="5.500" height="13" fill="#8c8e9b"/>
<rect x="1404" y="283" width="3.200" height="30" fill="#7a7c8b"/>
<rect x="1396" y="300" width="7" height="8" fill="#c98f70"/>
<rect x="1392" y="308" width="14" height="16" fill="#a9abb6"/>
<path d="M1433 266H1452V324H1436z" fill="#7f93a6"/>
<rect x="1436" y="272" width="13" height="17" fill="#5b6f84"/>
<rect x="1441" y="294" width="8" height="10" fill="#e4aa3e"/>
<path d="M1406 324C1406 312 1412 305.500 1420 305L1427 306 1427 324z" fill="#7ba0c0"/>
<path d="M1421 296H1427V306L1423 308 1420 305z" fill="#d9a283"/>
<path d="M1425.500 266.500C1431 266.500 1434 271 1435 278 1436 288 1439 296 1441 304 1442 312 1441 318 1439 324L1424 324C1425 314 1425 306 1427 298 1421 298 1417 292 1418 284 1419 274 1421 267 1425.500 266.500z" fill="#2e201c"/>
<ellipse cx="1425.300" cy="286.300" rx="4.900" ry="9.400" fill="#d8a283"/>
<path d="M1420 281C1420.500 275 1423 271.500 1426.500 271.500 1430 271.500 1432 275 1432.500 282 1431 278 1429 275.500 1426.500 275.500 1423.500 275.500 1421 278 1420 281z" fill="#2e201c"/>
<path d="M1423 292.500C1424.500 293.800 1426.500 293.800 1428 292.500" stroke="#f4e6df" stroke-width="1" fill="none"/>
</g></g>
<g clip-path="url(#pa2)"><g filter="url(#bl2)">
<rect x="1390" y="354" width="62" height="62" fill="#eeeff2"/>
<path d="M1396 416C1398 404 1406 399 1414 397L1428 397C1437 399 1444 404 1446 416z" fill="#1e1f24"/>
<path d="M1414 392H1427V399L1420.500 403 1414 399z" fill="#c9a48c"/>
<ellipse cx="1420.500" cy="379" rx="10.200" ry="13" fill="#c69d84"/>
<path d="M1410 378C1408 366 1413 360 1421 360 1429 360 1433 366 1431 378 1430 371 1427 368 1421 368 1414 368 1411 371 1410 378z" fill="#2b2522"/>
<path d="M1410.500 383C1411 392 1415 396.500 1420.500 396.500 1426 396.500 1430 392 1430.500 383 1428 387 1424 387.500 1420.500 387.500 1417 387.500 1413 387 1410.500 383z" fill="#2e2724"/>
<rect x="1411.500" y="375.500" width="8" height="4.600" rx="2.200" fill="#4a4f5c"/><rect x="1421.800" y="375.500" width="8" height="4.600" rx="2.200" fill="#4a4f5c"/>
</g></g>
<g clip-path="url(#pa3)"><g filter="url(#bl2)">
<rect x="1390" y="444" width="62" height="62" fill="url(#rybg)"/>
<path d="M1394 506C1396 494 1404 488 1413 486L1429 486C1439 489 1446 494 1448 506z" fill="#15171c"/>
<path d="M1413 486L1421 497 1429 486 1426 482H1416z" fill="#cfd9e6"/>
<path d="M1419.500 489H1423L1424.500 503H1418z" fill="#2f4f6a"/>
<ellipse cx="1421" cy="470" rx="10" ry="12.500" fill="#d0a085"/>
<path d="M1410.500 469C1408 458 1414 451 1421 451 1429 451 1434 458 1431.500 469 1430 462 1427 458.500 1421 458.500 1415 458.500 1412 462 1410.500 469z" fill="#8f8a86"/>
<path d="M1416 476C1419 479 1423 479 1426 476" stroke="#fff" stroke-width="1.300" fill="none"/>
</g></g>
<g clip-path="url(#pa4)"><g filter="url(#bl2)">
<rect x="1390" y="536" width="62" height="62" fill="#f0f1f4"/>
<path d="M1400 566C1401 559 1408 556.500 1415 555.500L1432 556C1439 557.500 1444 561 1444.500 568L1441 596 1403 596z" fill="#f8f8fa" stroke="#d9dae1" stroke-width="1"/>
<path d="M1401 565L1397.500 580 1405 591 1409.500 588 1404.500 579 1407.500 568z" fill="#c99a7e"/><path d="M1443.500 567L1446.500 581 1436 591 1432 587.500 1439.500 579 1437.500 569z" fill="#c99a7e"/>
<path d="M1419.500 552H1428.500V557.500L1424 561z" fill="#c0917a"/>
<ellipse cx="1424.300" cy="548.500" rx="5.600" ry="6.800" fill="#cf9f86"/>
<path d="M1418.300 548C1417.300 542.500 1421 539.500 1425.500 540 1430.500 540.500 1432.500 544.500 1430.500 549.500 1429.500 546.500 1427.500 544.500 1424 544.500 1421 544.500 1419.300 545.500 1418.300 548z" fill="#3a2c26"/>
</g></g>
</svg>
<div class="card" style="left:432.500px;top:671.500px;width:909px;height:300px"></div>
<svg style="left:447.0px;top:689.3px" width="22" height="22" viewBox="0 0 24 24"><path d="M16 11c1.660 0 2.990-1.340 2.990-3S17.660 5 16 5c-1.660 0-3 1.340-3 3s1.340 3 3 3zm-8 0c1.660 0 2.990-1.340 2.990-3S9.660 5 8 5C6.340 5 5 6.340 5 8s1.340 3 3 3zm0 2c-2.330 0-7 1.170-7 3.500V19h14v-2.500c0-2.330-4.670-3.500-7-3.500zm8 0c-.29 0-.62.020-.97.050 1.160.84 1.970 1.970 1.970 3.450V19h6v-2.500c0-2.330-4.670-3.500-7-3.500z" fill="#5a6176"/></svg>
<div class="t" style="left:483.8px;top:693.0px;font-size:17.5px;color:#5a6176;letter-spacing:0.27px;-webkit-text-stroke:.5px #5a6176;">Leave Taken on Each Calendar Month Over the Years</div>
<svg style="left:1307.5px;top:688.0px" width="18.5" height="18.5" viewBox="0 0 24 24"><path d="M19.14 12.94c.04-.3.06-.61.06-.94 0-.32-.02-.64-.07-.94l2.030-1.580a.49.49 0 0 0 .12-.61l-1.920-3.320a.488.488 0 0 0-.59-.22l-2.390.96c-.5-.38-1.030-.7-1.620-.94l-.36-2.540a.484.484 0 0 0-.48-.41h-3.840c-.24 0-.43.17-.47.41l-.36 2.540c-.59.24-1.130.57-1.620.94l-2.390-.96c-.22-.08-.47 0-.59.22L2.740 8.870c-.12.21-.08.47.12.61l2.030 1.580c-.05.3-.09.63-.09.94s.02.64.07.94l-2.030 1.580a.49.49 0 0 0-.12.61l1.920 3.320c.12.22.37.29.59.22l2.390-.96c.5.38 1.030.7 1.620.94l.36 2.540c.05.24.24.41.48.41h3.840c.24 0 .44-.17.47-.41l.36-2.540c.59-.24 1.130-.56 1.620-.94l2.390.96c.22.08.47 0 .59-.22l1.920-3.320c.12-.22.07-.47-.12-.61l-2.010-1.580zM12 15.600c-1.980 0-3.600-1.620-3.600-3.600s1.620-3.600 3.600-3.600 3.600 1.620 3.600 3.600-1.620 3.600-3.600 3.600z" fill="#5a6176"/></svg>
<div class="hr" style="left:448px;top:720.500px;width:880px"></div>
<svg style="left:0;top:0" width="1920" height="920" viewBox="0 0 1920 920"><path d="M516.400 739.300H524.300V920" fill="none" stroke="#8d92a6" stroke-width="1.300"/><path d="M516.400 752.9H524.300" stroke="#8d92a6" stroke-width="1.300"/><path d="M516.400 774.3H524.300" stroke="#8d92a6" stroke-width="1.300"/><path d="M516.400 795.6H524.300" stroke="#8d92a6" stroke-width="1.300"/><path d="M516.400 816.9H524.300" stroke="#8d92a6" stroke-width="1.300"/><path d="M516.400 838.2H524.300" stroke="#8d92a6" stroke-width="1.300"/><path d="M516.400 859.5H524.300" stroke="#8d92a6" stroke-width="1.300"/><path d="M516.400 880.8H524.300" stroke="#8d92a6" stroke-width="1.300"/><path d="M516.400 902.1H524.300" stroke="#8d92a6" stroke-width="1.300"/><path d="M516.400 923.4H524.300" stroke="#8d92a6" stroke-width="1.300"/><path d="M589.700 920V861.100A11 11 0 0 1 600.700 850.100H649.400A11 11 0 0 1 660.400 861.100V920z" fill="#2e9bfe"/><path d="M1190.900 920V750.200A11 11 0 0 1 1201.900 739.200H1251.200A11 11 0 0 1 1262.200 750.200V920z" fill="#2e9bfe"/></svg>
<div class="t" style="left:498.0px;top:747.0px;font-size:12.3px;color:#9196a8;letter-spacing:0.46px;">65</div>
<div class="t" style="left:498.0px;top:769.0px;font-size:12.3px;color:#9196a8;letter-spacing:0.46px;">60</div>
<div class="t" style="left:498.0px;top:790.0px;font-size:12.3px;color:#9196a8;letter-spacing:0.46px;">55</div>
<div class="t" style="left:498.0px;top:811.0px;font-size:12.3px;color:#9196a8;letter-spacing:0.46px;">50</div>
<div class="t" style="left:498.0px;top:833.0px;font-size:12.3px;color:#9196a8;letter-spacing:0.46px;">45</div>
<div class="t" style="left:498.0px;top:854.0px;font-size:12.3px;color:#9196a8;letter-spacing:0.46px;">40</div>
<div class="t" style="left:498.0px;top:875.0px;font-size:12.3px;color:#9196a8;letter-spacing:0.46px;">35</div>
<div class="t" style="left:498.0px;top:897.0px;font-size:12.3px;color:#9196a8;letter-spacing:0.46px;">30</div>
<div class="t" style="left:498.0px;top:918.0px;font-size:12.3px;color:#9196a8;letter-spacing:0.46px;">25</div>
<div class="t" style="left:481.600px;top:793.600px;width:0;height:0"><div class="t" id="ylab" style="right:0;top:0;transform-origin:100% 0;transform:rotate(-90deg) translate(0,-6.800px);font-size:12.500px;font-weight:bold;color:#8b90a3;letter-spacing:.12px;-webkit-text-stroke:0">Leave Duration (Hours)</div></div>
<div class="card" style="left:1372.500px;top:671.500px;width:439px;height:300px"></div>
<svg style="left:1389px;top:692px" width="17.500" height="17.500" viewBox="0 0 18 18"><circle cx="9" cy="9" r="7.900" fill="none" stroke="#5a6176" stroke-width="1.700"/><path d="M9 3.800A5.200 5.200 0 1 1 3.800 9H9z" fill="#5a6176"/></svg>
<div class="t" style="left:1418.3px;top:693.0px;font-size:17.5px;color:#5a6176;letter-spacing:0.91px;-webkit-text-stroke:.5px #5a6176;">Time At Work</div>
<svg style="left:1777.5px;top:688.0px" width="18.5" height="18.5" viewBox="0 0 24 24"><path d="M19.14 12.94c.04-.3.06-.61.06-.94 0-.32-.02-.64-.07-.94l2.030-1.580a.49.49 0 0 0 .12-.61l-1.920-3.320a.488.488 0 0 0-.59-.22l-2.390.96c-.5-.38-1.030-.7-1.620-.94l-.36-2.540a.484.484 0 0 0-.48-.41h-3.840c-.24 0-.43.17-.47.41l-.36 2.540c-.59.24-1.130.57-1.620.94l-2.390-.96c-.22-.08-.47 0-.59.22L2.740 8.870c-.12.21-.08.47.12.61l2.030 1.580c-.05.3-.09.63-.09.94s.02.64.07.94l-2.030 1.580a.49.49 0 0 0-.12.61l1.920 3.320c.12.22.37.29.59.22l2.390-.96c.5.38 1.030.7 1.620.94l.36 2.540c.05.24.24.41.48.41h3.840c.24 0 .44-.17.47-.41l.36-2.540c.59-.24 1.130-.56 1.620-.94l2.390.96c.22.08.47 0 .59-.22l1.920-3.320c.12-.22.07-.47-.12-.61l-2.010-1.580zM12 15.600c-1.980 0-3.600-1.620-3.600-3.600s1.620-3.600 3.600-3.600 3.600 1.620 3.600 3.600-1.620 3.600-3.600 3.600z" fill="#5a6176"/></svg>
<div class="hr" style="left:1388px;top:721.300px;width:408px"></div>
<svg style="left:1396px;top:730px" width="58" height="58" viewBox="0 0 58 58"><defs><clipPath id="avs"><circle cx="28.500" cy="28.600" r="25.200"/></clipPath></defs>
<circle cx="28.500" cy="28.600" r="25.600" fill="#7f8396" stroke="#f5811f" stroke-width="2"/>
<g clip-path="url(#avs)"><g filter="url(#bl2)">
<path d="M6 58C8 48 15 42 23 39L33 39C41 42 47 47 50 58z" fill="#f3f3f6"/>
<path d="M23 34V41L29 50 34.500 41V34z" fill="#c49676"/>
<ellipse cx="28" cy="23" rx="8.700" ry="11.500" fill="#caa083"/>
<path d="M19 25C18 15 21 8.500 27.500 7.500 34 6.500 38.500 12 37.500 23 36.500 17 34.500 14 31 13 27 12 23 13 21 16.500 20 19 20 22 19 25z" fill="#4a3d38"/>
</g></g></svg>
<div class="t" style="left:1461.2px;top:740.0px;font-size:16.6px;color:#f0811f;font-weight:bold;letter-spacing:0.26px;">Punched Out</div>
<div class="t" style="left:1461.2px;top:764.0px;font-size:15px;color:#656c80;letter-spacing:0.02px;">Punched Out : Jun 6th at 02:37 PM (GMT 5.5)</div>
<div class="abs" style="left:1387.700px;top:803.500px;width:310px;height:33.800px;border-radius:17px;background:#e5e8ee"></div>
<div class="t" style="left:1495.0px;top:813.0px;font-size:17px;color:#5a6176;font-weight:bold;letter-spacing:0.61px;">24h 00m</div>
<div class="t" style="left:1572.9px;top:813.0px;font-size:17px;color:#656c80;letter-spacing:0.33px;">Today</div>
<div class="abs" style="left:1727.500px;top:800.600px;width:59px;height:39.600px;border-radius:19.800px;background:#fdebd9"></div>
<div class="abs" style="left:1679.400px;top:797.900px;width:44.600px;height:44.600px;border-radius:50%;background:#ff7c14"></div>
<svg style="left:1687.200px;top:803px" width="28" height="30" viewBox="0 0 28 30"><g fill="none" stroke="#fff3e0" stroke-linecap="round"><circle cx="14" cy="17.700" r="10.500" stroke-width="3.300"/><path d="M14 11.800V17.800" stroke-width="2.900" stroke-linecap="butt"/><path d="M10.300 2.900H17.700" stroke-width="3.400" stroke-linecap="butt"/><path d="M23.200 7.200L24.800 8.800" stroke-width="2.400"/></g></svg>
<svg style="left:1746px;top:807.500px" width="22" height="25" viewBox="0 0 22 25"><g fill="none" stroke="#f5811f" stroke-width="1.800" stroke-linecap="round" stroke-linejoin="round"><rect x="1.200" y="3.800" width="19.600" height="20" rx="3"/><path d="M6.500 1V5.500M15.500 1V5.500"/><circle cx="11" cy="11.300" r="2.700"/><path d="M5.500 20C5.800 17.300 7.800 15.800 11 15.800S16.200 17.300 16.500 20z"/></g></svg>
<div class="hr" style="left:1388px;top:852px;width:398px"></div>
<div class="t" style="left:1387.7px;top:866.0px;font-size:15px;color:#5a6176;font-weight:bold;letter-spacing:0.08px;">This Week</div>
<div class="t" style="left:1387.7px;top:889.0px;font-size:11.7px;color:#9a9fb0;letter-spacing:0.33px;">Jun 1st - Jun 7th</div>
<div class="abs" style="left:1666.300px;top:867.700px;width:116px;height:32.600px;border-radius:16.300px;background:#e5e8ee"></div>
<svg style="left:1684.300px;top:872.600px" width="19" height="21" viewBox="0 0 19 21"><g fill="none" stroke="#5a6176" stroke-linecap="round"><circle cx="9.500" cy="12" r="7.700" stroke-width="2.100"/><path d="M9.500 8V12.300" stroke-width="1.900"/><path d="M6.800 1.300H12.200" stroke-width="2.200"/><path d="M16.200 4.600L17.300 3.500" stroke-width="1.800"/></g></svg>
<div class="t" style="left:1705.0px;top:876.0px;font-size:15px;color:#5a6176;font-weight:bold;letter-spacing:0.29px;">98h 03m</div>
<div class="abs" style="left:1887px;top:191px;width:40px;height:35px;border-radius:12px 0 0 12px;background:#fff;box-shadow:0 0 6px rgba(180,185,205,.25)"></div>
<svg style="left:1892.500px;top:197.500px" width="21.500" height="21.500" viewBox="0 0 24 24"><path d="M12 8.2a3.8 3.8 0 1 0 0 7.6 3.8 3.8 0 0 0 0-7.6zM10.3 2h3.4l.6 2.6 1.6.7 2.3-1.4 2.4 2.4-1.4 2.3.7 1.6 2.6.6v3.4l-2.6.6-.7 1.6 1.4 2.3-2.4 2.4-2.3-1.4-1.6.7-.6 2.6h-3.4l-.6-2.6-1.6-.7-2.3 1.4-2.4-2.4 1.4-2.3-.7-1.6L1.500 13.700v-3.400l2.600-.6.700-1.600L3.400 5.800 5.800 3.400l2.300 1.400 1.600-.7z" fill="none" stroke="#5f667a" stroke-width="1.450" stroke-linejoin="round"/></svg>
<svg style="left:320.500px;top:627.500px" width="14" height="21" viewBox="0 0 14 21"><path d="M1 1V16.500L4.600 13.200 7.300 19.500 9.800 18.400 7.100 12.300H12.200z" fill="#fdfdfe" stroke="#5b6072" stroke-width="1.200" stroke-linejoin="round"/></svg>
</body>
</html>
